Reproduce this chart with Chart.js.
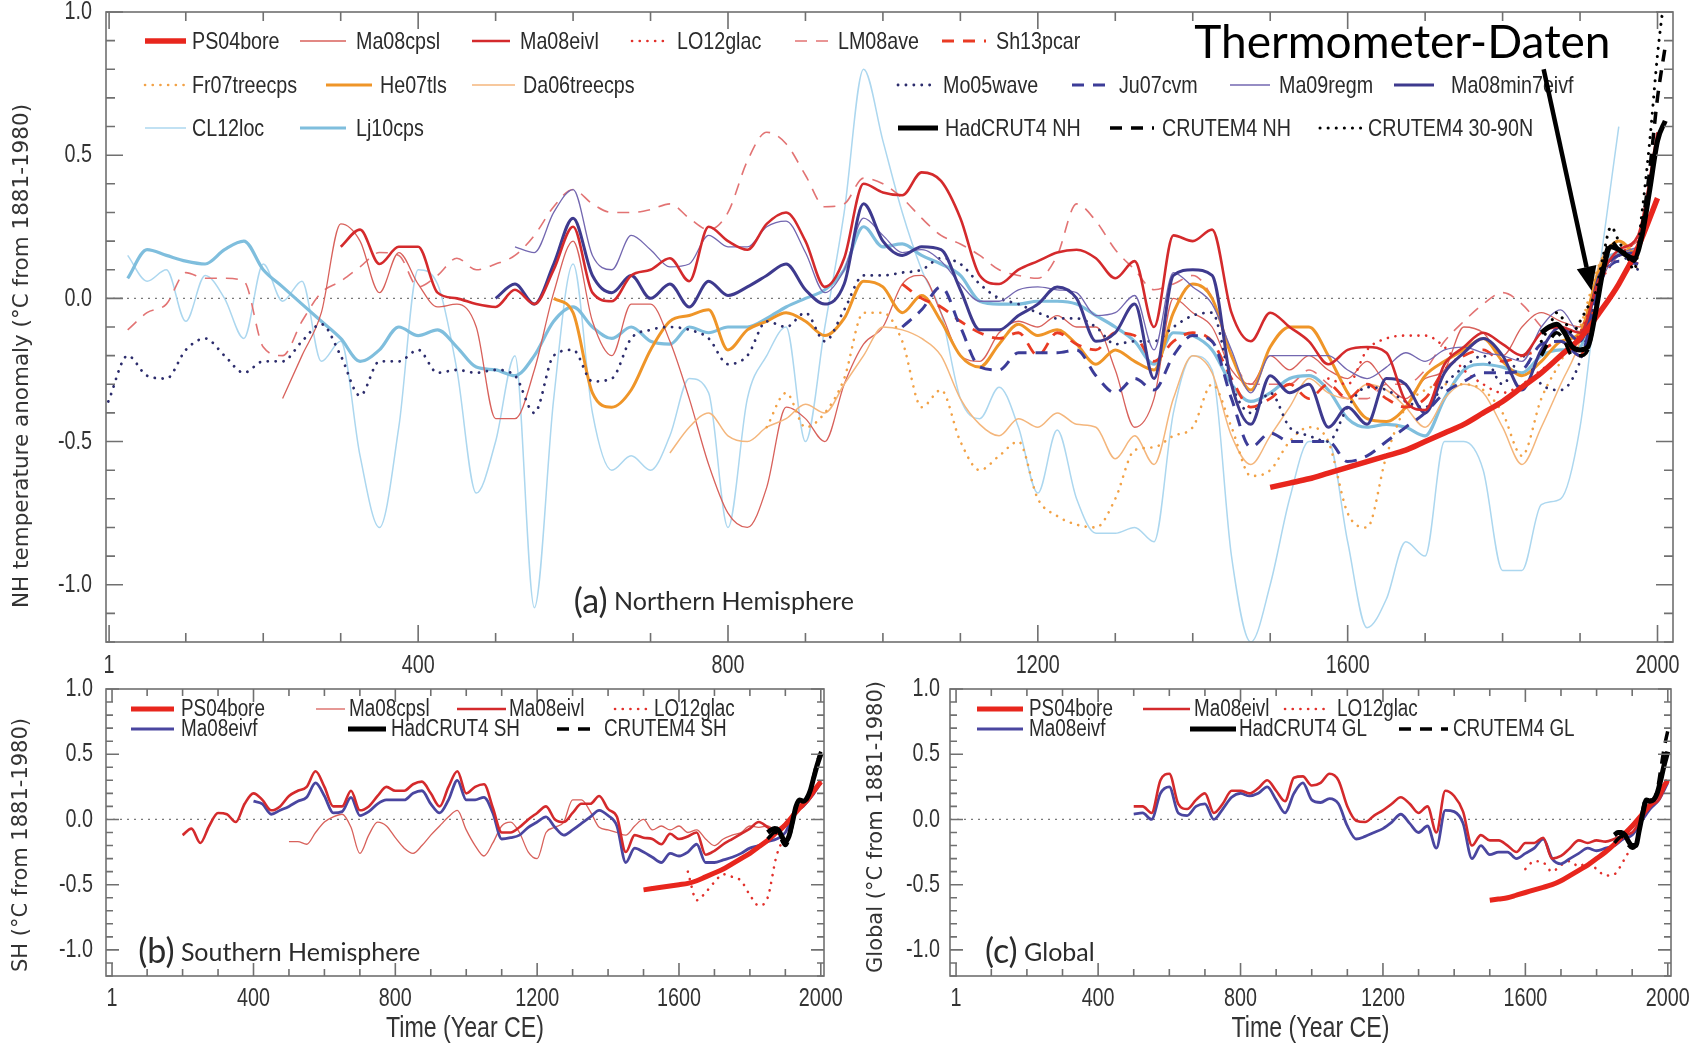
<!DOCTYPE html>
<html>
<head>
<meta charset="utf-8">
<title>NH / SH / Global temperature reconstructions</title>
<script src="https://cdn.jsdelivr.net/npm/chart.js@4.4.1/dist/chart.umd.min.js"></script>
<style>
  html, body { margin: 0; padding: 0; background: #ffffff; }
  body { width: 1707px; height: 1045px; position: relative; overflow: hidden; }
  .box { position: absolute; }
</style>
</head>
<body>
<div class="box" style="left:0;top:0;width:1707px;height:700px"><canvas id="chartNH"></canvas></div>
<div class="box" style="left:0;top:660px;width:850px;height:385px"><canvas id="chartSH"></canvas></div>
<div class="box" style="left:850px;top:660px;width:857px;height:385px"><canvas id="chartGL"></canvas></div>
<script>
// ---- axes ----
const xTickYears = [1, 100, 200, 300, 400, 500, 600, 700, 800, 900, 1000, 1100, 1200, 1300, 1400, 1500, 1600, 1700, 1800, 1900, 2000];
const xLabelYears = [1, 400, 800, 1200, 1600, 2000];
const yTickVals = [-1.2, -1.1, -1.0, -0.9, -0.8, -0.7, -0.6, -0.5, -0.4, -0.3, -0.2, -0.1, 0, 0.1, 0.2, 0.3, 0.4, 0.5, 0.6, 0.7, 0.8, 0.9, 1.0];
const yLabelVals = [-1.0, -0.5, 0, 0.5, 1.0];

// ---- reconstructions: values every 25 years from the given start year ----
// Northern Hemisphere
const cl12locNH = [ // from 25
  0.15, 0.06, 0.1,
  -0.08, 0.08, 0.0, -0.14,
  0.12, -0.01, 0.06, -0.22,
  -0.15, -0.55, -0.8, -0.45,
  0.1, 0.05, -0.25, -0.68,
  -0.5, -0.2, -1.08, -0.35,
  0.12, -0.4, -0.6, -0.55,
  -0.6, -0.48, -0.28, -0.33,
  -0.8, -0.35, -0.2, -0.1,
  -0.5, -0.1, 0.3, 0.8,
  0.55, 0.3, 0.1, -0.05,
  -0.35, -0.42, -0.31, -0.45,
  -0.68, -0.46, -0.7, -0.82,
  -0.82, -0.8, -0.85, -0.4,
  -0.2, -0.25, -0.9, -1.2,
  -1.0, -0.7, -0.5, -0.5,
  -0.85, -1.15, -1.05, -0.85,
  -0.9, -0.5, -0.5, -0.6,
  -0.95, -0.95, -0.72, -0.7,
  -0.45, 0.1, 0.6
];
const lj10cpsNH = [ // from 25
  0.07, 0.17, 0.15,
  0.13, 0.12, 0.17, 0.2,
  0.1, 0.04, -0.02, -0.08,
  -0.14, -0.22, -0.18, -0.1,
  -0.13, -0.11, -0.17, -0.24,
  -0.25, -0.27, -0.2, -0.08,
  -0.03, -0.1, -0.14, -0.1,
  -0.15, -0.16, -0.1, -0.12,
  -0.1, -0.1, -0.07, -0.03,
  0.0, 0.03, 0.1, 0.25,
  0.18, 0.19, 0.15, 0.12,
  0.08, -0.01, -0.02, -0.02,
  -0.01, -0.01, -0.02, -0.06,
  -0.1, -0.15, -0.23, -0.12,
  -0.13, -0.18, -0.3, -0.36,
  -0.33, -0.28, -0.27, -0.32,
  -0.42, -0.45, -0.44, -0.45,
  -0.48, -0.35, -0.25, -0.23,
  -0.24, -0.26, -0.2, -0.18,
  -0.17, 0.1, 0.16, 0.17
];
const lm08aveNH = [ // from 25
  -0.11, -0.05, -0.02,
  0.09, 0.07, 0.07, 0.06,
  -0.17, -0.2, -0.08, 0.02,
  0.06, 0.11, 0.16, 0.15,
  0.04, 0.08, 0.14, 0.1,
  0.12, 0.15, 0.22, 0.32,
  0.38, 0.33, 0.3, 0.3,
  0.31, 0.33, 0.28, 0.24,
  0.3, 0.48, 0.58, 0.54,
  0.43, 0.32, 0.33, 0.42,
  0.4, 0.35, 0.28, 0.22,
  0.19, 0.15, 0.1, 0.08,
  0.07, 0.15, 0.33, 0.27,
  0.17, 0.1, 0.03, 0.05,
  0.08, 0.0, -0.2, -0.3,
  -0.3, -0.3, -0.25, -0.3,
  -0.35, -0.35, -0.3, -0.3,
  -0.25, -0.15, -0.08, -0.02,
  0.02, -0.02, -0.1
];
const ma08cpslNH = [ // from 225
  -0.35, -0.2, -0.05,
  0.26, 0.2, 0.02, 0.16,
  0.05, -0.03, -0.02, -0.1,
  -0.42, -0.42, -0.25, 0.02,
  0.2, -0.08, -0.2, -0.02,
  -0.02, -0.15, -0.35, -0.58,
  -0.75, -0.8, -0.66, -0.38,
  -0.42, -0.5, -0.3, -0.16,
  -0.1, 0.05, 0.08, -0.05,
  -0.2, -0.22, -0.12, -0.08,
  -0.1, -0.06, -0.1, -0.1,
  -0.25, -0.45, -0.35, 0.0,
  -0.05, -0.1, -0.25, -0.3,
  -0.2, -0.25, -0.2, -0.25,
  -0.28, -0.22, -0.3, -0.35,
  -0.28, -0.25, -0.1, -0.12,
  -0.2, -0.1, -0.05, -0.08,
  -0.1, 0.1, 0.15, 0.2
];
const ma08eivlNH = [ // from 300
  0.18, 0.24, 0.12, 0.18,
  0.18, 0.02, 0.0, -0.02,
  -0.03, 0.03, -0.02, 0.1,
  0.25, 0.02, -0.01, 0.08,
  0.1, 0.14, 0.06, 0.25,
  0.2, 0.17, 0.26, 0.3,
  0.2, 0.04, 0.14, 0.4,
  0.37, 0.36, 0.44, 0.41,
  0.28, 0.08, 0.05, 0.1,
  0.13, 0.16, 0.17, 0.14,
  0.07, 0.13, -0.1, 0.22,
  0.2, 0.24, -0.05, -0.15,
  -0.05, -0.1, -0.15, -0.23,
  -0.18, -0.17, -0.19, -0.36,
  -0.39, -0.23, -0.17, -0.12,
  -0.16, -0.2, -0.12, -0.1,
  -0.12, 0.07, 0.17, 0.22,
  0.58
];
const ma08min7NH = [ // from 500
  0.0, 0.05, -0.02, 0.12,
  0.28, 0.08, 0.02, 0.08,
  0.0, 0.05, -0.03, 0.06,
  0.01, 0.04, 0.08, 0.12,
  0.03, -0.02, 0.05, 0.33,
  0.2, 0.15, 0.18, 0.17,
  0.03, -0.11, -0.11, -0.06,
  -0.02, 0.04, 0.0, -0.15,
  -0.12, -0.02, -0.28, 0.08,
  0.1, 0.08, -0.3, -0.44,
  -0.27, -0.33, -0.3, -0.45,
  -0.38, -0.44, -0.28, -0.3,
  -0.4, -0.26, -0.19, -0.14,
  -0.2, -0.32, -0.18, -0.1,
  -0.15, 0.08, 0.15, 0.16
];
const ma09regmNH = [ // from 525
  0.18, 0.16, 0.3,
  0.38, 0.15, 0.1, 0.22,
  0.17, 0.11, 0.12, 0.22,
  0.18, 0.18, 0.25, 0.27,
  0.16, 0.02, 0.1, 0.28,
  0.22, 0.16, 0.17, 0.13,
  0.05, -0.01, -0.01, 0.03,
  0.04, 0.03, 0.02, -0.06,
  -0.05, 0.01, -0.18, 0.09,
  0.04, -0.02, -0.18, -0.33,
  -0.2, -0.2, -0.2, -0.2,
  -0.25, -0.28, -0.24, -0.19,
  -0.22, -0.18, -0.17, -0.19,
  -0.2, -0.22, -0.1, -0.04,
  -0.12, 0.06, 0.15, 0.18
];
const mo05waveNH = [ // from 0
  -0.36, -0.2, -0.27, -0.28,
  -0.18, -0.14, -0.2, -0.26,
  -0.22, -0.22, -0.15, -0.09,
  -0.2, -0.34, -0.22, -0.22,
  -0.18, -0.26, -0.25, -0.26,
  -0.25, -0.27, -0.4, -0.2,
  -0.18, -0.29, -0.28, -0.14,
  -0.11, -0.1, -0.11, -0.14,
  -0.23, -0.2, -0.08, -0.1,
  -0.05, -0.15, -0.04, 0.08,
  0.08, 0.09, 0.1, 0.14,
  0.12, 0.05, 0.0, -0.02,
  -0.05, -0.07, -0.07, -0.1,
  -0.16, -0.15, -0.15, -0.1,
  -0.06, -0.05, -0.3, -0.4,
  -0.33, -0.45, -0.48, -0.5,
  -0.38, -0.31, -0.32, -0.36,
  -0.38, -0.3, -0.24, -0.2,
  -0.3, -0.2, -0.3, -0.32,
  -0.22, 0.05, 0.15, 0.1
];
const ju07cvmNH = [ // from 1025
  -0.1, -0.04, 0.04,
  -0.1, -0.24, -0.25, -0.19,
  -0.19, -0.19, -0.18, -0.27,
  -0.33, -0.28, -0.32, -0.2,
  -0.13, -0.15, -0.35, -0.52,
  -0.47, -0.5, -0.5, -0.5,
  -0.57, -0.55, -0.5, -0.45,
  -0.4, -0.33, -0.29, -0.26,
  -0.26, -0.25, -0.16, -0.15,
  -0.2, 0.05, 0.13, 0.12
];
const sh13pcarNH = [ // from 1025
  0.05, 0.0, -0.03,
  -0.08, -0.12, -0.14, -0.12,
  -0.2, -0.12, -0.16, -0.18,
  -0.12, -0.13, -0.22, -0.15,
  -0.12, -0.15, -0.28, -0.38,
  -0.35, -0.3, -0.35, -0.3,
  -0.35, -0.3, -0.35, -0.38,
  -0.35, -0.25, -0.2, -0.18,
  -0.22, -0.2, -0.18, -0.15,
  -0.2, 0.05, 0.15, 0.12
];
const he07tlsNH = [ // from 575
  0.0,
  -0.05, -0.33, -0.38, -0.32,
  -0.18, -0.08, -0.06, -0.04,
  -0.18, -0.11, -0.08, -0.05,
  -0.08, -0.13, -0.07, 0.06,
  0.04, -0.05, 0.01, -0.08,
  -0.2, -0.24, -0.16, -0.09,
  -0.13, -0.11, -0.16, -0.23,
  -0.18, -0.22, -0.25, -0.05,
  0.05, 0.0, -0.2, -0.32,
  -0.17, -0.1, -0.1, -0.2,
  -0.33, -0.42, -0.43, -0.38,
  -0.27, -0.22, -0.18, -0.14,
  -0.22, -0.27, -0.22, -0.15,
  -0.12, 0.1, 0.2, 0.14
];
const da06treecpsNH = [ // from 725
  -0.54, -0.45, -0.4,
  -0.48, -0.5, -0.45, -0.42,
  -0.37, -0.4, -0.3, -0.2,
  -0.1, -0.11, -0.14, -0.2,
  -0.35, -0.44, -0.48, -0.42,
  -0.45, -0.4, -0.44, -0.45,
  -0.56, -0.48, -0.58, -0.35,
  -0.2, -0.26, -0.48, -0.58,
  -0.48, -0.38, -0.28, -0.33,
  -0.35, -0.3, -0.32, -0.38,
  -0.45, -0.35, -0.3, -0.33,
  -0.45, -0.58, -0.45, -0.3,
  -0.15, 0.12, 0.2, 0.1
];
const fr07treecpsNH = [ // from 850
  -0.45, -0.33,
  -0.45, -0.4, -0.28, -0.05,
  -0.05, -0.15, -0.38, -0.32,
  -0.5, -0.6, -0.55, -0.5,
  -0.7, -0.76, -0.79, -0.8,
  -0.7, -0.53, -0.52, -0.48,
  -0.45, -0.3, -0.45, -0.62,
  -0.6, -0.5, -0.45, -0.5,
  -0.75, -0.8, -0.55, -0.38,
  -0.32, -0.3, -0.3, -0.32,
  -0.4, -0.55, -0.35, -0.22,
  -0.1, 0.12, 0.2, 0.1
];
const lo12glacNH = [ // from 1575
  -0.28,
  -0.3, -0.18, -0.14, -0.13,
  -0.13, -0.17, -0.25, -0.3,
  -0.33, -0.3, -0.25, -0.2,
  -0.12, 0.05, 0.15, 0.2
];
const ps04boreNH = [ // from 1500
  -0.66, -0.645, -0.63, -0.61,
  -0.59, -0.57, -0.55, -0.53,
  -0.5, -0.47, -0.44, -0.4,
  -0.36, -0.31, -0.26, -0.2,
  -0.14, -0.05, 0.05, 0.18,
  0.35
];

// Southern Hemisphere
const ps04boreSH = [ // from 1500
  -0.54, -0.53, -0.52, -0.51,
  -0.5, -0.49, -0.47, -0.44,
  -0.41, -0.38, -0.34, -0.3,
  -0.26, -0.21, -0.16, -0.1,
  -0.04, 0.04, 0.12, 0.2,
  0.29
];
const ma08cpslSH = [ // from 500
  -0.17, -0.17, -0.19, -0.1,
  -0.02, 0.02, 0.04, -0.06,
  -0.26, -0.12, -0.02, -0.05,
  -0.14, -0.22, -0.26, -0.2,
  -0.12, -0.05, 0.02, 0.07,
  -0.08, -0.2, -0.28, -0.18,
  -0.05, -0.02, -0.1, -0.25,
  -0.3, -0.1, -0.06, -0.02,
  0.15, 0.15, 0.06, -0.06,
  -0.08, -0.1, -0.12, -0.05,
  0.0, -0.08, -0.05, -0.08,
  -0.05, -0.1, -0.08, -0.15,
  -0.2, -0.15, -0.12, -0.1,
  -0.05, -0.06, -0.05, -0.1
];
const ma08eivlSH = [ // from 200
  -0.12, -0.07, -0.18, -0.05,
  0.05, 0.04, -0.02, 0.12,
  0.2, 0.15, 0.07, 0.1,
  0.18, 0.22, 0.25, 0.37,
  0.25, 0.1, 0.1, 0.22,
  0.07, 0.1, 0.18, 0.25,
  0.22, 0.22, 0.27, 0.29,
  0.2, 0.1, 0.25, 0.37,
  0.2, 0.25, 0.27, 0.09,
  -0.1, -0.1, -0.06, 0.0,
  0.05, 0.1, 0.0, -0.02,
  0.05, 0.12, 0.12, 0.18,
  0.08, 0.02, -0.25, -0.12,
  -0.14, -0.15, -0.19, -0.11,
  -0.15, -0.13, -0.1, -0.27,
  -0.24, -0.19, -0.15, -0.11,
  -0.07, -0.02, -0.06, -0.11,
  -0.05, 0.05, 0.1, 0.18,
  0.3
];
const ma08eivfSH = [ // from 400
  0.14, 0.12, 0.04, 0.07,
  0.1, 0.14, 0.17, 0.28,
  0.18, 0.05, 0.06, 0.17,
  0.03, 0.06, 0.12, 0.15,
  0.15, 0.15, 0.2, 0.22,
  0.12, 0.05, 0.15, 0.3,
  0.15, 0.15, 0.17, 0.05,
  -0.15, -0.14, -0.12, -0.06,
  -0.02, 0.02, -0.06, -0.12,
  -0.08, -0.03, 0.02, 0.07,
  0.03, -0.05, -0.33, -0.22,
  -0.25, -0.29, -0.33, -0.26,
  -0.28, -0.25, -0.19, -0.33,
  -0.33, -0.31, -0.29, -0.26,
  -0.22, -0.2, -0.17, -0.15,
  -0.1, 0.05, 0.1, 0.18,
  0.28
];
const lo12glacSH = [ // from 1625
  -0.4, -0.62, -0.56,
  -0.48, -0.42, -0.44, -0.47,
  -0.58, -0.66, -0.6, -0.28,
  -0.12
];

// Global
const ps04boreGL = [ // from 1500
  -0.62, -0.61, -0.6, -0.58,
  -0.56, -0.54, -0.52, -0.5,
  -0.47, -0.43, -0.39, -0.35,
  -0.3, -0.25, -0.19, -0.12,
  -0.05, 0.03, 0.11, 0.2,
  0.3
];
const ma08eivlGL = [ // from 500
  0.1, 0.1, 0.05, 0.3,
  0.35, 0.12, 0.08, 0.15,
  0.2, 0.05, 0.12, 0.22,
  0.22, 0.2, 0.24, 0.3,
  0.22, 0.14, 0.32, 0.33,
  0.26, 0.28, 0.35, 0.3,
  0.1, -0.01, -0.02, 0.03,
  0.07, 0.12, 0.17, 0.12,
  0.05, 0.1, -0.1, 0.22,
  0.18, 0.06, -0.2, -0.12,
  -0.16, -0.16, -0.2, -0.25,
  -0.18, -0.18, -0.14, -0.3,
  -0.28, -0.22, -0.16, -0.18,
  -0.16, -0.17, -0.15, -0.12,
  -0.1, 0.0, 0.1, 0.15,
  0.3
];
const ma08eivfGL = [ // from 500
  0.04, 0.05, 0.0, 0.2,
  0.25, 0.05, 0.03, 0.1,
  0.12, 0.0, 0.08, 0.17,
  0.2, 0.18, 0.2, 0.25,
  0.15, 0.05, 0.2, 0.28,
  0.15, 0.13, 0.16, 0.12,
  -0.05, -0.15, -0.13, -0.1,
  -0.07, -0.02, 0.04, -0.03,
  -0.1, -0.05, -0.22, 0.07,
  0.06, -0.03, -0.3, -0.2,
  -0.27, -0.25, -0.25, -0.3,
  -0.26, -0.22, -0.15, -0.3,
  -0.34, -0.3, -0.26, -0.22,
  -0.24, -0.22, -0.2, -0.15,
  -0.12, -0.02, 0.08, 0.15,
  0.28
];
const lo12glacGL = [ // from 1600
  -0.38, -0.32, -0.33, -0.4,
  -0.35, -0.32, -0.36, -0.33,
  -0.38, -0.43, -0.42, -0.32,
  -0.2
];

// ---- instrumental records (decadal) ----
const instYears = [1850, 1860, 1870, 1880, 1890, 1900, 1910, 1920, 1930, 1940, 1950, 1960, 1970, 1980, 1990, 2000, 2010];
const hadcrutNH = [-0.12, -0.1, -0.09, -0.12, -0.17, -0.18, -0.17, -0.05, 0.1, 0.18, 0.17, 0.15, 0.14, 0.22, 0.38, 0.55, 0.62];
const crutemNH = [-0.2, -0.15, -0.12, -0.15, -0.2, -0.2, -0.18, -0.05, 0.12, 0.2, 0.17, 0.15, 0.13, 0.25, 0.45, 0.7, 0.88];
const crutem3090 = [-0.15, -0.1, -0.05, -0.08, -0.12, -0.08, -0.03, 0.02, 0.15, 0.25, 0.2, 0.15, 0.1, 0.3, 0.55, 0.85, 1.08];
const hadcrutSH = [-0.1, -0.08, -0.07, -0.08, -0.13, -0.17, -0.13, -0.02, 0.1, 0.15, 0.14, 0.16, 0.22, 0.32, 0.42, 0.5, null];
const crutemSH = [-0.15, -0.12, -0.1, -0.1, -0.16, -0.2, -0.15, -0.03, 0.1, 0.14, 0.13, 0.15, 0.22, 0.33, 0.44, 0.52, null];
const hadcrutGL = [-0.12, -0.1, -0.1, -0.12, -0.17, -0.2, -0.2, -0.08, 0.05, 0.15, 0.14, 0.15, 0.2, 0.3, 0.42, 0.52, null];
const crutemGL = [-0.18, -0.15, -0.13, -0.15, -0.2, -0.22, -0.2, -0.08, 0.08, 0.17, 0.15, 0.15, 0.22, 0.38, 0.55, 0.68, null];

// ---- helpers ----
const STEP = 25;
const FONT_N = "'Liberation Sans', Arial, sans-serif";   // drawn horizontally squeezed
const FONT_W = "'DejaVu Sans', Verdana, sans-serif";
const FONT_H = "Lato, 'Open Sans', sans-serif";

function onGrid(start, vals) { return vals.map((v, i) => ({ x: start + STEP * i, y: v })); }
function onYears(years, vals) { return years.map((x, i) => ({ x: x, y: vals[i] })); }
function hasVal(list, v) { return list.some(l => Math.abs(l - v) < 1e-6); }

// narrow text: the original uses a condensed face
function squeeze(ctx, text, x, y, align, sx) {
  ctx.save();
  ctx.translate(x, y);
  ctx.scale(sx, 1);
  ctx.textAlign = align;
  ctx.fillText(text, 0, 0);
  ctx.restore();
}

function line(label, data, color, width, style) {
  const ds = {
    label, data, borderColor: color, backgroundColor: color, borderWidth: width,
    pointRadius: 0, fill: false, cubicInterpolationMode: 'monotone', borderJoinStyle: 'round'
  };
  if (style === 'dash') ds.borderDash = [12, 9];
  if (style === 'dot') { ds.borderDash = [0.1, width + 5]; ds.borderCapStyle = 'round'; }
  return ds;
}

const C = {
  ps04: '#e8261d', cpsl: '#d8615b', eivl: '#d42a2c', lo12: '#e2302b', lm08: '#e27373',
  sh13: '#e93b24', fr07: '#f2a247', he07: '#ef9528', da06: '#f4b67c', mo05: '#2c2c6c',
  ju07: '#3c3c98', ma09: '#7367b0', eivf: '#3e3a8e', cl12: '#acd7ef', lj10: '#7fbedd'
};

// ---- plugins ----
function frameTicks(major, minor) {
  return {
    id: 'frameTicks',
    beforeDatasetsDraw(chart) {
      const { ctx, chartArea: a } = chart;
      const y0 = chart.scales.y.getPixelForValue(0);
      ctx.save();
      ctx.strokeStyle = '#7a7a7a';
      ctx.lineWidth = 1.3;
      ctx.setLineDash([2, 5]);
      ctx.beginPath(); ctx.moveTo(a.left, y0); ctx.lineTo(a.right, y0); ctx.stroke();
      ctx.restore();
    },
    afterDatasetsDraw(chart) {
      const { ctx, chartArea: a, scales } = chart;
      ctx.save();
      ctx.strokeStyle = '#707070';
      ctx.lineWidth = 1.6;
      ctx.strokeRect(a.left, a.top, a.right - a.left, a.bottom - a.top);
      ctx.beginPath();
      scales.y.ticks.forEach(t => {
        const p = scales.y.getPixelForValue(t.value);
        const len = hasVal(yLabelVals, t.value) ? major : minor;
        ctx.moveTo(a.left, p); ctx.lineTo(a.left + len, p);
        ctx.moveTo(a.right - len, p); ctx.lineTo(a.right, p);
      });
      scales.x.ticks.forEach(t => {
        const p = scales.x.getPixelForValue(t.value);
        const len = hasVal(xLabelYears, t.value) ? major : minor;
        ctx.moveTo(p, a.bottom); ctx.lineTo(p, a.bottom - len);
        ctx.moveTo(p, a.top); ctx.lineTo(p, a.top + len);
      });
      ctx.stroke();
      ctx.restore();
    }
  };
}

// tick labels and axis titles, placed from the chart's scales
function axisText(o) {
  return {
    id: 'axisText',
    afterDraw(chart) {
      const { ctx, chartArea: a, scales: { x, y } } = chart;
      ctx.save();
      ctx.fillStyle = '#333';
      ctx.textBaseline = 'middle';
      ctx.font = '26px ' + FONT_N;
      yLabelVals.forEach(v => squeeze(ctx, v.toFixed(1), a.left - o.yPad, y.getPixelForValue(v), 'right', 0.76));
      xLabelYears.forEach(v => squeeze(ctx, String(v), x.getPixelForValue(v), a.bottom + o.xPad, 'center', 0.76));
      ctx.font = o.yTitleSize + 'px ' + FONT_W;
      ctx.save();
      ctx.translate(o.yTitleX, o.yTitleY);
      ctx.rotate(-Math.PI / 2);
      ctx.textAlign = 'center';
      ctx.fillText(o.yTitle, 0, 0);
      ctx.restore();
      if (o.xTitle) {
        ctx.font = '29px ' + FONT_N;
        squeeze(ctx, o.xTitle, (a.left + a.right) / 2, o.xTitleY, 'center', 0.8);
      }
      ctx.restore();
    }
  };
}

function legendBlock(items, size) {
  return {
    id: 'legendBlock',
    afterDatasetsDraw(chart) {
      const ctx = chart.ctx;
      ctx.save();
      items.forEach(it => {
        const ds = chart.data.datasets.find(d => d.label === it.label);
        ctx.strokeStyle = ds.borderColor;
        ctx.lineWidth = ds.borderWidth;
        ctx.setLineDash(ds.borderDash || []);
        ctx.lineCap = ds.borderCapStyle || 'butt';
        ctx.beginPath(); ctx.moveTo(it.x0, it.y); ctx.lineTo(it.x1, it.y); ctx.stroke();
        ctx.setLineDash([]);
        ctx.fillStyle = '#2b2b2b';
        ctx.font = size + 'px ' + FONT_N;
        ctx.textBaseline = 'middle';
        squeeze(ctx, it.label, it.tx, it.y + 1, 'left', 0.82);
      });
      ctx.restore();
    }
  };
}

function notes(list, arrow) {
  return {
    id: 'notes',
    afterDraw(chart) {
      const { ctx, scales: { x, y } } = chart;
      ctx.save();
      ctx.textBaseline = 'middle';
      list.forEach(n => {
        let px = x.getPixelForValue(n.x);
        const py = y.getPixelForValue(n.y);
        n.parts.forEach(p => {
          ctx.font = p.font;
          ctx.fillStyle = p.color || '#2b2b2b';
          ctx.fillText(p.text, px, py);
          px += ctx.measureText(p.text).width;
        });
      });
      if (arrow) {
        const x1 = x.getPixelForValue(arrow.from[0]), y1 = y.getPixelForValue(arrow.from[1]);
        const x2 = x.getPixelForValue(arrow.to[0]), y2 = y.getPixelForValue(arrow.to[1]);
        const ang = Math.atan2(y2 - y1, x2 - x1);
        const head = 24, half = 10;
        const bx = x2 - head * Math.cos(ang), by = y2 - head * Math.sin(ang);
        ctx.strokeStyle = '#000'; ctx.fillStyle = '#000';
        ctx.lineWidth = 4.5;
        ctx.beginPath(); ctx.moveTo(x1, y1); ctx.lineTo(bx, by); ctx.stroke();
        ctx.beginPath();
        ctx.moveTo(x2, y2);
        ctx.lineTo(bx + half * Math.sin(ang), by - half * Math.cos(ang));
        ctx.lineTo(bx - half * Math.sin(ang), by + half * Math.cos(ang));
        ctx.closePath(); ctx.fill();
      }
      ctx.restore();
    }
  };
}

function yAxis(width) {
  return {
    type: 'linear', min: -1.2, max: 1.0,
    afterBuildTicks: s => { s.ticks = yTickVals.map(v => ({ value: v })); },
    afterFit: s => { s.width = width; },
    grid: { display: false, drawTicks: false },
    border: { display: false },
    ticks: { display: false },
    title: { display: false }
  };
}

function xAxis(min, max, height) {
  return {
    type: 'linear', min, max,
    afterBuildTicks: s => { s.ticks = xTickYears.map(v => ({ value: v })); },
    afterFit: s => { s.height = height; },
    grid: { display: false, drawTicks: false },
    border: { display: false },
    ticks: { display: false },
    title: { display: false }
  };
}

function makeChart(id, datasets, scales, padding, plugins) {
  return new Chart(document.getElementById(id), {
    type: 'line',
    data: { datasets },
    options: {
      responsive: true, maintainAspectRatio: false, animation: false, devicePixelRatio: 1,
      layout: { padding },
      plugins: { legend: { display: false }, tooltip: { enabled: false } },
      scales
    },
    plugins
  });
}

// ---- (a) Northern Hemisphere ----
const nhSets = [
  line('HadCRUT4 NH', onYears(instYears, hadcrutNH), '#000', 5, 'solid'),
  line('CRUTEM4 NH', onYears(instYears, crutemNH), '#000', 3.5, 'dash'),
  line('CRUTEM4 30-90N', onYears(instYears, crutem3090), '#000', 3, 'dot'),
  line('PS04bore', onGrid(1500, ps04boreNH), C.ps04, 5.5, 'solid'),
  line('Ma08eivl', onGrid(300, ma08eivlNH), C.eivl, 2.6, 'solid'),
  line('Ma08min7eivf', onGrid(500, ma08min7NH), C.eivf, 3, 'solid'),
  line('Ma09regm', onGrid(525, ma09regmNH), C.ma09, 1.3, 'solid'),
  line('Ju07cvm', onGrid(1025, ju07cvmNH), C.ju07, 3, 'dash'),
  line('Mo05wave', onGrid(0, mo05waveNH), C.mo05, 2.8, 'dot'),
  line('Sh13pcar', onGrid(1025, sh13pcarNH), C.sh13, 2.8, 'dash'),
  line('LO12glac', onGrid(1575, lo12glacNH), C.lo12, 2.6, 'dot'),
  line('He07tls', onGrid(575, he07tlsNH), C.he07, 3, 'solid'),
  line('Fr07treecps', onGrid(850, fr07treecpsNH), C.fr07, 2.6, 'dot'),
  line('Da06treecps', onGrid(725, da06treecpsNH), C.da06, 1.5, 'solid'),
  line('Ma08cpsl', onGrid(225, ma08cpslNH), C.cpsl, 1.3, 'solid'),
  line('Lj10cps', onGrid(25, lj10cpsNH), C.lj10, 3.2, 'solid'),
  line('LM08ave', onGrid(25, lm08aveNH), C.lm08, 1.6, 'dash'),
  line('CL12loc', onGrid(25, cl12locNH), C.cl12, 1.5, 'solid')
];

const nhLegend = [
  { label: 'PS04bore', x0: 145, x1: 186, tx: 192, y: 41 },
  { label: 'Ma08cpsl', x0: 300, x1: 346, tx: 356, y: 41 },
  { label: 'Ma08eivl', x0: 472, x1: 510, tx: 520, y: 41 },
  { label: 'LO12glac', x0: 632, x1: 668, tx: 677, y: 41 },
  { label: 'LM08ave', x0: 795, x1: 832, tx: 838, y: 41 },
  { label: 'Sh13pcar', x0: 942, x1: 986, tx: 996, y: 41 },
  { label: 'Fr07treecps', x0: 145, x1: 186, tx: 192, y: 85 },
  { label: 'He07tls', x0: 326, x1: 372, tx: 380, y: 85 },
  { label: 'Da06treecps', x0: 472, x1: 515, tx: 523, y: 85 },
  { label: 'Mo05wave', x0: 898, x1: 936, tx: 943, y: 85 },
  { label: 'Ju07cvm', x0: 1072, x1: 1112, tx: 1119, y: 85 },
  { label: 'Ma09regm', x0: 1230, x1: 1270, tx: 1279, y: 85 },
  { label: 'Ma08min7eivf', x0: 1394, x1: 1434, tx: 1451, y: 85 },
  { label: 'CL12loc', x0: 145, x1: 186, tx: 192, y: 128 },
  { label: 'Lj10cps', x0: 300, x1: 346, tx: 356, y: 128 },
  { label: 'HadCRUT4 NH', x0: 898, x1: 938, tx: 945, y: 128 },
  { label: 'CRUTEM4 NH', x0: 1110, x1: 1154, tx: 1162, y: 128 },
  { label: 'CRUTEM4 30-90N', x0: 1320, x1: 1361, tx: 1368, y: 128 }
];

makeChart('chartNH', nhSets,
  { x: xAxis(-3, 2020, 58), y: yAxis(106) },
  { top: 12, right: 34, left: 0, bottom: 0 },
  [
    frameTicks(17, 9),
    axisText({ yPad: 14, xPad: 24, yTitle: 'NH temperature anomaly (\u00B0C from 1881-1980)', yTitleSize: 21.5, yTitleX: 22, yTitleY: 356 }),
    legendBlock(nhLegend, 24),
    notes([
      { x: 601, y: -1.06, parts: [{ text: '(a)', font: '34px ' + FONT_H }, { text: ' Northern Hemisphere', font: '25px ' + FONT_H }] },
      { x: 1402, y: 0.89, parts: [{ text: 'Thermometer-Daten', font: '46px ' + FONT_H, color: '#000' }] }
    ], { from: [1853, 0.80], to: [1915, 0.027] })
  ]);

// ---- (b) Southern Hemisphere ----
const shSets = [
  line('HadCRUT4 SH', onYears(instYears, hadcrutSH), '#000', 5, 'solid'),
  line('CRUTEM4 SH', onYears(instYears, crutemSH), '#000', 3.5, 'dash'),
  line('PS04bore', onGrid(1500, ps04boreSH), C.ps04, 5, 'solid'),
  line('Ma08eivl', onGrid(200, ma08eivlSH), C.eivl, 2.6, 'solid'),
  line('Ma08eivf', onGrid(400, ma08eivfSH), '#4a46a0', 2.8, 'solid'),
  line('LO12glac', onGrid(1625, lo12glacSH), C.lo12, 2.6, 'dot'),
  line('Ma08cpsl', onGrid(500, ma08cpslSH), C.cpsl, 1.3, 'solid')
];
const shLegend = [
  { label: 'PS04bore', x0: 131, x1: 174, tx: 181, y: 49 },
  { label: 'Ma08cpsl', x0: 316, x1: 345, tx: 349, y: 49 },
  { label: 'Ma08eivl', x0: 457, x1: 506, tx: 509, y: 49 },
  { label: 'LO12glac', x0: 615, x1: 651, tx: 654, y: 49 },
  { label: 'Ma08eivf', x0: 131, x1: 174, tx: 181, y: 69 },
  { label: 'HadCRUT4 SH', x0: 348, x1: 386, tx: 391, y: 69 },
  { label: 'CRUTEM4 SH', x0: 557, x1: 599, tx: 604, y: 69 }
];
makeChart('chartSH', shSets,
  { x: xAxis(-16, 2009, 69), y: yAxis(106) },
  { top: 29, right: 26, left: 0, bottom: 0 },
  [
    frameTicks(13, 7),
    axisText({ yPad: 13, xPad: 23, yTitle: 'SH (\u00B0C from 1881-1980)', yTitleSize: 21, yTitleX: 22, yTitleY: 185, xTitle: 'Time (Year CE)', xTitleY: 369 }),
    legendBlock(shLegend, 23),
    notes([
      { x: 75, y: -1.02, parts: [{ text: '(b)', font: '34px ' + FONT_H }, { text: ' Southern Hemisphere', font: '25px ' + FONT_H }] }
    ], null)
  ]);

// ---- (c) Global ----
const glSets = [
  line('HadCRUT4 GL', onYears(instYears, hadcrutGL), '#000', 5, 'solid'),
  line('CRUTEM4 GL', onYears(instYears, crutemGL), '#000', 3.5, 'dash'),
  line('PS04bore', onGrid(1500, ps04boreGL), C.ps04, 5, 'solid'),
  line('Ma08eivl', onGrid(500, ma08eivlGL), C.eivl, 2.6, 'solid'),
  line('Ma08eivf', onGrid(500, ma08eivfGL), '#4a46a0', 2.8, 'solid'),
  line('LO12glac', onGrid(1600, lo12glacGL), C.lo12, 2.6, 'dot')
];
const glLegend = [
  { label: 'PS04bore', x0: 127, x1: 173, tx: 179, y: 49 },
  { label: 'Ma08eivl', x0: 293, x1: 340, tx: 344, y: 49 },
  { label: 'LO12glac', x0: 435, x1: 480, tx: 487, y: 49 },
  { label: 'Ma08eivf', x0: 127, x1: 173, tx: 179, y: 69 },
  { label: 'HadCRUT4 GL', x0: 340, x1: 386, tx: 389, y: 69 },
  { label: 'CRUTEM4 GL', x0: 549, x1: 598, tx: 603, y: 69 }
];
makeChart('chartGL', glSets,
  { x: xAxis(-16, 2009, 69), y: yAxis(100) },
  { top: 29, right: 36, left: 0, bottom: 0 },
  [
    frameTicks(13, 7),
    axisText({ yPad: 10, xPad: 23, yTitle: 'Global (\u00B0C from 1881-1980)', yTitleSize: 21, yTitleX: 27, yTitleY: 167, xTitle: 'Time (Year CE)', xTitleY: 369 }),
    legendBlock(glLegend, 23),
    notes([
      { x: 82, y: -1.02, parts: [{ text: '(c)', font: '34px ' + FONT_H }, { text: ' Global', font: '25px ' + FONT_H }] }
    ], null)
  ]);
</script>
</body>
</html>
